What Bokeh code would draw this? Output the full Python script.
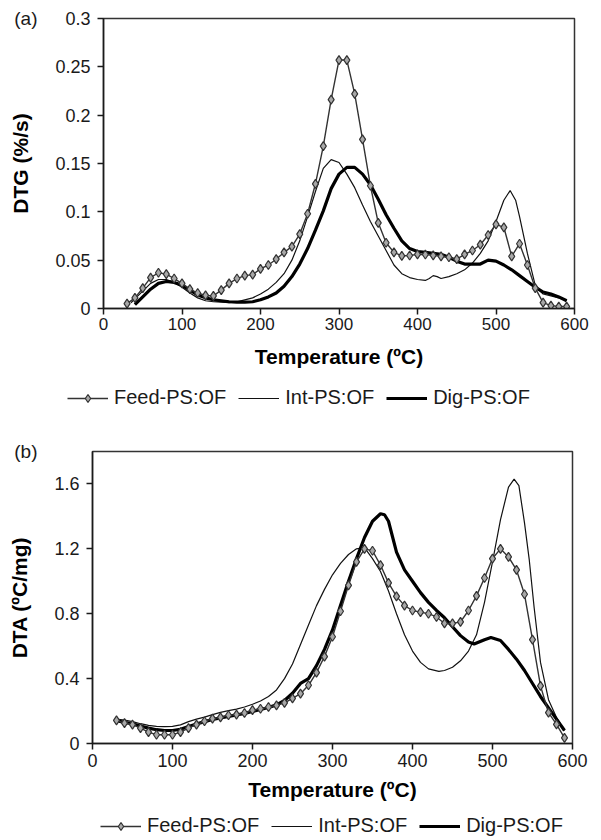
from bokeh.plotting import figure
from bokeh.models import (Range1d, FixedTicker, NumeralTickFormatter, Legend, LegendItem,
                          LinearAxis)
from bokeh.embed import file_html
from bokeh.resources import INLINE

# ---------------- data: panel (a) DTG (%/s) ----------------
temp_feed = [30, 40, 50, 60, 70, 80, 90, 100, 110, 120, 130, 140, 150, 160, 170, 180, 190, 200,
             210, 220, 230, 240, 250, 260, 270, 280, 290, 300, 310, 320, 330, 340, 350, 360, 370,
             380, 390, 400, 410, 420, 430, 440, 450, 460, 470, 480, 490, 500, 510, 520, 530, 540,
             550, 560, 570, 580, 590]
dtg_feed = [0.005, 0.011, 0.021, 0.032, 0.037, 0.0355, 0.031, 0.026, 0.020, 0.016, 0.0135, 0.013,
            0.019, 0.026, 0.031, 0.034, 0.035, 0.041, 0.045, 0.051, 0.058, 0.064, 0.077, 0.098,
            0.129, 0.168, 0.216, 0.257, 0.257, 0.222, 0.175, 0.127, 0.0886, 0.068, 0.058, 0.0545,
            0.0548, 0.056, 0.0559, 0.055, 0.054, 0.053, 0.051, 0.056, 0.060, 0.066, 0.076, 0.087,
            0.084, 0.054, 0.067, 0.045, 0.021, 0.006, 0.003, 0.002, 0.002]

temp_dtg_int = [35, 40, 50, 60, 70, 80, 90, 100, 110, 120, 130, 140, 150, 160, 170, 180, 190, 200,
                210, 220, 230, 240, 250, 260, 270, 280, 290, 300, 310, 320, 330, 340, 350, 360,
                370, 380, 390, 400, 410, 415, 420, 425, 430, 440, 450, 460, 470, 480, 490, 500,
                510, 518, 525, 530, 540, 550, 560, 570, 580, 590]
dtg_int = [0.006, 0.010, 0.018, 0.026, 0.030, 0.030, 0.027, 0.022, 0.016, 0.011, 0.008, 0.007,
           0.0065, 0.006, 0.007, 0.009, 0.011, 0.015, 0.020, 0.027, 0.036, 0.050, 0.070, 0.095,
           0.121, 0.145, 0.154, 0.151, 0.139, 0.125, 0.107, 0.090, 0.075, 0.060, 0.045, 0.036,
           0.032, 0.030, 0.029, 0.031, 0.034, 0.033, 0.031, 0.033, 0.036, 0.040, 0.047, 0.057,
           0.070, 0.090, 0.112, 0.122, 0.112, 0.095, 0.057, 0.024, 0.015, 0.013, 0.011, 0.008]

temp_dtg_dig = [40, 50, 60, 70, 80, 90, 100, 110, 120, 130, 140, 150, 160, 170, 180, 190, 200,
                210, 220, 230, 240, 250, 260, 270, 280, 290, 300, 310, 320, 330, 340, 350, 360,
                370, 380, 390, 400, 410, 420, 430, 440, 450, 460, 470, 480, 490, 500, 510, 520,
                530, 540, 550, 560, 570, 580, 590]
dtg_dig = [0.004, 0.012, 0.020, 0.026, 0.028, 0.027, 0.024, 0.019, 0.014, 0.011, 0.009, 0.008,
           0.007, 0.0065, 0.0065, 0.007, 0.009, 0.012, 0.016, 0.023, 0.033, 0.046, 0.062, 0.081,
           0.101, 0.124, 0.139, 0.146, 0.146, 0.139, 0.128, 0.113, 0.097, 0.083, 0.070, 0.062,
           0.059, 0.058, 0.057, 0.056, 0.053, 0.049, 0.046, 0.046, 0.046, 0.050, 0.049, 0.045,
           0.040, 0.034, 0.028, 0.022, 0.017, 0.015, 0.012, 0.008]

# ---------------- data: panel (b) DTA (ºC/mg) ----------------
dta_feed = [0.143, 0.126, 0.116, 0.095, 0.070, 0.054, 0.054, 0.054, 0.070, 0.095, 0.116, 0.137,
            0.153, 0.161, 0.174, 0.178, 0.188, 0.206, 0.214, 0.225, 0.235, 0.250, 0.278, 0.307,
            0.359, 0.437, 0.536, 0.658, 0.815, 0.975, 1.12, 1.20, 1.188, 1.10, 0.99, 0.907, 0.85,
            0.82, 0.81, 0.80, 0.78, 0.74, 0.74, 0.75, 0.82, 0.91, 1.02, 1.14, 1.20, 1.15, 1.07,
            0.92, 0.64, 0.355, 0.19, 0.118, 0.035]

temp_dta_int = [30, 40, 50, 60, 70, 80, 90, 100, 110, 120, 130, 140, 150, 160, 170, 180, 190, 200,
                210, 220, 230, 240, 250, 260, 270, 280, 290, 300, 310, 320, 330, 340, 350, 360,
                370, 380, 390, 400, 410, 420, 433, 440, 450, 460, 470, 480, 490, 500, 510, 520,
                527, 533, 540, 546, 552, 560, 570, 580, 590]
dta_int = [0.15, 0.145, 0.135, 0.122, 0.112, 0.106, 0.104, 0.106, 0.115, 0.135, 0.15, 0.163,
           0.178, 0.192, 0.203, 0.212, 0.225, 0.242, 0.262, 0.29, 0.33, 0.40, 0.49, 0.61, 0.73,
           0.85, 0.95, 1.04, 1.11, 1.165, 1.20, 1.207, 1.14, 1.06, 0.94, 0.80, 0.67, 0.57, 0.50,
           0.46, 0.445, 0.45, 0.47, 0.51, 0.57, 0.67, 0.87, 1.12, 1.38, 1.58, 1.63, 1.59, 1.36,
           1.13, 0.84, 0.50, 0.27, 0.16, 0.08]

temp_dta_dig = [30, 40, 50, 60, 70, 80, 90, 100, 110, 120, 130, 140, 150, 160, 170, 180, 190, 200,
                210, 220, 230, 240, 250, 260, 270, 280, 290, 300, 310, 320, 330, 340, 350, 360,
                365, 370, 380, 390, 400, 410, 420, 430, 440, 450, 460, 470, 477, 490, 498, 510,
                520, 530, 540, 550, 560, 570, 580, 590]
dta_dig = [0.14, 0.13, 0.122, 0.108, 0.095, 0.085, 0.08, 0.08, 0.088, 0.105, 0.12, 0.135, 0.148,
           0.158, 0.167, 0.176, 0.186, 0.198, 0.21, 0.222, 0.238, 0.265, 0.31, 0.37, 0.40, 0.48,
           0.58, 0.70, 0.85, 1.0, 1.14, 1.27, 1.37, 1.416, 1.41, 1.37, 1.18, 1.07, 1.0, 0.93,
           0.87, 0.82, 0.775, 0.72, 0.665, 0.625, 0.613, 0.64, 0.654, 0.635, 0.58, 0.52, 0.45,
           0.37, 0.29, 0.22, 0.15, 0.08]

series_names = ["Feed-PS:OF", "Int-PS:OF", "Dig-PS:OF"]
x_ticks = [0, 100, 200, 300, 400, 500, 600]
dtg_ticks = [0, 0.05, 0.1, 0.15, 0.2, 0.25, 0.3]
dta_ticks = [0, 0.4, 0.8, 1.2, 1.6]

FONT = "Liberation Sans"
INK = "#1a1a1a"


def draw_series(p, feed_y, int_x, int_y, dig_x, dig_y):
    r_int = p.line(int_x, int_y, line_color="#111111", line_width=1.2)
    r_dig = p.line(dig_x, dig_y, line_color="#000000", line_width=3.2)
    r_feed = p.line(temp_feed, feed_y, line_color="#333333", line_width=1.4)
    r_feed_m = p.scatter(temp_feed, feed_y, marker="diamond", size=9, line_color="#333333",
                         line_width=1.2, fill_color="#a8a8a8")
    return r_feed, r_feed_m, r_int, r_dig


def panel(width, height, bl, br, bt, bb, y_end, y_ticks, y_fmt, y_title, tag,
          tag_standoff, title_standoff, feed_y, int_x, int_y, dig_x, dig_y,
          xlab_size, xlab_standoff, xtitle_standoff):
    p = figure(width=width, height=height, x_range=Range1d(0, 600), y_range=Range1d(0, y_end),
               output_backend="svg", toolbar_location=None,
               min_border_left=bl, min_border_right=br, min_border_top=bt, min_border_bottom=bb)
    p.xgrid.visible = False
    p.ygrid.visible = False
    p.outline_line_color = "#333333"
    p.outline_line_width = 1.5
    p.background_fill_color = "white"
    p.border_fill_color = "white"

    for ax in (p.xaxis[0], p.yaxis[0]):
        ax.axis_line_color = INK
        ax.axis_line_width = 1.5
        ax.major_tick_line_color = INK
        ax.major_tick_line_width = 1.5
        ax.major_tick_out = 6
        ax.major_tick_in = 0
        ax.minor_tick_out = 0
        ax.minor_tick_in = 0
        ax.major_label_text_font = FONT
        ax.major_label_text_color = INK

    p.xaxis.ticker = FixedTicker(ticks=x_ticks)
    p.xaxis.formatter = NumeralTickFormatter(format="0")
    p.xaxis.major_label_text_font_size = xlab_size
    p.xaxis.major_label_standoff = xlab_standoff
    p.xaxis.axis_label = "Temperature (ºC)"
    p.xaxis.axis_label_standoff = xtitle_standoff
    p.xaxis.axis_label_text_font = FONT
    p.xaxis.axis_label_text_font_style = "bold"
    p.xaxis.axis_label_text_font_size = "21px"
    p.xaxis.axis_label_text_color = "#000000"

    p.yaxis.ticker = FixedTicker(ticks=y_ticks)
    p.yaxis.formatter = NumeralTickFormatter(format=y_fmt)
    p.yaxis.major_label_text_font_size = "18px"
    p.yaxis.major_label_standoff = 7

    # outer left axis: carries the panel tag "(a)"/"(b)" at the top and the y-axis title
    tag_axis = LinearAxis(ticker=FixedTicker(ticks=[y_end]), major_label_overrides={y_end: tag},
                          axis_line_color=None, major_tick_line_color=None,
                          major_tick_out=0, major_tick_in=0, minor_tick_out=0, minor_tick_in=0,
                          major_label_standoff=tag_standoff, major_label_text_font=FONT,
                          major_label_text_font_size="19px", major_label_text_color=INK,
                          axis_label=y_title, axis_label_standoff=title_standoff,
                          axis_label_text_font=FONT, axis_label_text_font_style="bold",
                          axis_label_text_font_size="21px", axis_label_text_color="#000000")
    p.add_layout(tag_axis, "left")

    draw_series(p, feed_y, int_x, int_y, dig_x, dig_y)
    return p


def legend_strip(width, height, loc, feed_y, int_x, int_y, dig_x, dig_y):
    # a strip with no axes whose frame is the whole strip; the series are drawn outside its
    # y range, so only the legend shows
    s = figure(width=width, height=height, x_range=Range1d(0, 600), y_range=Range1d(-3, -2),
               output_backend="svg", toolbar_location=None, x_axis_location=None,
               y_axis_location=None, min_border=0, min_border_left=0, min_border_right=0,
               min_border_top=0, min_border_bottom=0)
    s.xgrid.visible = False
    s.ygrid.visible = False
    s.outline_line_color = None
    r_feed, r_feed_m, r_int, r_dig = draw_series(s, feed_y, int_x, int_y, dig_x, dig_y)
    leg = Legend(items=[LegendItem(label=series_names[0], renderers=[r_feed, r_feed_m]),
                        LegendItem(label=series_names[1], renderers=[r_int]),
                        LegendItem(label=series_names[2], renderers=[r_dig])],
                 location=loc, orientation="horizontal", border_line_color=None,
                 background_fill_alpha=0, padding=0, margin=0, spacing=12, label_standoff=6,
                 glyph_width=41, glyph_height=20, label_height=20,
                 label_text_font=FONT, label_text_font_size="20px", label_text_color=INK)
    s.add_layout(leg, "center")
    return s


p1 = panel(593, 380, 103, 19, 18, 72, 0.3, dtg_ticks, "0.[00]", "DTG (%/s)", "(a)", 15, -21,
           dtg_feed, temp_dtg_int, dtg_int, temp_dtg_dig, dtg_dig, "17px", 3, 12)
l1 = legend_strip(593, 40, (67, 11), dtg_feed, temp_dtg_int, dtg_int, temp_dtg_dig, dtg_dig)
p2 = panel(593, 387, 92, 21, 31, 64, 1.8, dta_ticks, "0.[0]", "DTA (ºC/mg)", "(b)", 14, -20,
           dta_feed, temp_dta_int, dta_int, temp_dta_dig, dta_dig, "18px", 4, 8)
l2 = legend_strip(593, 33, (100, 3), dta_feed, temp_dta_int, dta_int, temp_dta_dig, dta_dig)

# four independent roots, stacked by the page, so that each plot keeps its own frame position
open("out.html", "w").write(file_html([p1, l1, p2, l2], INLINE))
